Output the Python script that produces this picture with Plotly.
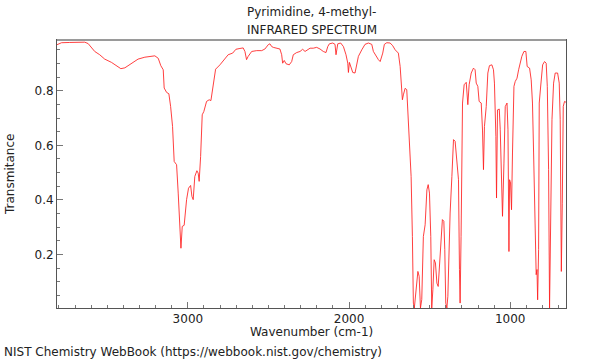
import plotly.graph_objects as go

wavenumber = [3815, 3784, 3733, 3640, 3619, 3598, 3578, 3547, 3516, 3474, 3443, 3416, 3391, 3350, 3309, 3267, 3225, 3205, 3184, 3168, 3153,
              3147, 3132, 3118, 3107, 3095, 3085, 3070, 3060, 3050, 3043, 3035, 3023, 3008, 2996, 2983, 2975, 2967, 2957, 2944, 2936, 2930,
              2921, 2911, 2901, 2884, 2868, 2857, 2843, 2828, 2801, 2770, 2750, 2722, 2702, 2677, 2657, 2646, 2636, 2626, 2604, 2573, 2542,
              2522, 2501, 2491, 2480, 2470, 2449, 2429, 2418, 2412, 2402, 2391, 2371, 2356, 2346, 2325, 2304, 2288, 2273, 2257, 2242, 2222,
              2201, 2180, 2160, 2143, 2132, 2122, 2101, 2087, 2081, 2070, 2052, 2035, 2019, 2008, 2004, 1998, 1988, 1977, 1963, 1953, 1942,
              1921, 1901, 1880, 1859, 1849, 1832, 1818, 1807, 1791, 1781, 1766, 1745, 1729, 1714, 1704, 1694, 1683, 1679, 1673, 1669, 1663,
              1652, 1642, 1635, 1627, 1621, 1615, 1607, 1601, 1595, 1584, 1573, 1565, 1557, 1549, 1539, 1528, 1517, 1509, 1501, 1493, 1487,
              1480, 1472, 1464, 1455, 1447, 1439, 1429, 1421, 1412, 1406, 1400, 1393, 1387, 1379, 1373, 1362, 1352, 1342, 1335, 1325, 1321,
              1315, 1311, 1305, 1296, 1286, 1273, 1263, 1255, 1242, 1228, 1218, 1211, 1201, 1193, 1180, 1172, 1166, 1160, 1149, 1139, 1129,
              1114, 1104, 1098, 1089, 1085, 1079, 1068, 1062, 1052, 1048, 1039, 1031, 1020, 1014, 1008, 1004, 998, 992, 986, 977, 969, 958,
              948, 938, 928, 915, 903, 895, 880, 870, 862, 855, 849, 843, 839, 834, 830, 824, 820, 812, 799, 787, 777, 770, 762, 756, 750,
              741, 731, 721, 706, 696, 690, 683, 677, 671, 663, 652]

transmittance = [0.968, 0.976, 0.977, 0.978, 0.973, 0.956, 0.944, 0.932, 0.916, 0.904, 0.892, 0.881, 0.884, 0.901, 0.916, 0.923, 0.928, 0.928, 0.919, 0.892, 0.877,
                 0.810, 0.794, 0.789, 0.742, 0.669, 0.541, 0.529, 0.425, 0.278, 0.223, 0.303, 0.307, 0.401, 0.443, 0.453, 0.413, 0.401, 0.486, 0.507, 0.498, 0.468,
                 0.559, 0.712, 0.724, 0.761, 0.767, 0.764, 0.816, 0.879, 0.895, 0.919, 0.932, 0.938, 0.952, 0.955, 0.957, 0.944, 0.914, 0.926, 0.944, 0.947, 0.947,
                 0.953, 0.969, 0.972, 0.962, 0.959, 0.956, 0.953, 0.932, 0.901, 0.911, 0.899, 0.895, 0.907, 0.932, 0.940, 0.944, 0.952, 0.944, 0.950, 0.956, 0.956,
                 0.959, 0.953, 0.944, 0.940, 0.962, 0.972, 0.975, 0.970, 0.932, 0.972, 0.975, 0.962, 0.932, 0.901, 0.867, 0.904, 0.889, 0.867, 0.865, 0.889, 0.926,
                 0.950, 0.970, 0.975, 0.970, 0.944, 0.926, 0.914, 0.907, 0.938, 0.970, 0.976, 0.975, 0.965, 0.950, 0.944, 0.938, 0.889, 0.840, 0.809, 0.767, 0.785,
                 0.809, 0.804, 0.730, 0.621, 0.572, 0.486, 0.266, 0.022, 0.004, 0.083, 0.138, 0.120, 0.004, 0.035, 0.266, 0.309, 0.437, 0.456, 0.425, 0.266, 0.004,
                 0.071, 0.181, 0.169, 0.095, 0.083, 0.157, 0.254, 0.328, 0.322, 0.218, 0.022, 0.004, 0.047, 0.218, 0.352, 0.486, 0.621, 0.615, 0.560, 0.511, 0.474,
                 0.145, 0.022, 0.266, 0.755, 0.822, 0.831, 0.749, 0.822, 0.865, 0.883, 0.877, 0.828, 0.816, 0.761, 0.755, 0.656, 0.511, 0.669, 0.742, 0.865, 0.892,
                 0.895, 0.877, 0.828, 0.633, 0.407, 0.730, 0.733, 0.657, 0.413, 0.340, 0.535, 0.742, 0.755, 0.657, 0.211, 0.474, 0.462, 0.364, 0.572, 0.816, 0.834, 0.846,
                 0.877, 0.907, 0.926, 0.944, 0.944, 0.889, 0.883, 0.840, 0.755, 0.572, 0.352, 0.145, 0.126, 0.145, 0.034, 0.218, 0.755, 0.810, 0.895, 0.907, 0.901, 0.816, 0.511, 0.004, 0.266,
                 0.694, 0.828, 0.865, 0.865, 0.828, 0.694, 0.138, 0.388, 0.743, 0.761, 0.757]

x_ticks = [3000, 2000, 1000]
y_ticks = [0.2, 0.4, 0.6, 0.8]

FONT = "DejaVu Sans"
TXT = dict(family=FONT, size=12, color="#222")

fig = go.Figure()
fig.add_trace(go.Scatter(x=wavenumber, y=transmittance, mode="lines",
                         line=dict(color="rgba(255,30,30,0.85)", width=1),
                         hoverinfo="skip", showlegend=False))

axis_common = dict(showgrid=False, zeroline=False, showline=True, mirror=True,
                   linecolor="#555", linewidth=1, ticks="inside", tickcolor="#777",
                   ticklen=6, tickwidth=1, tickfont=TXT)

fig.update_layout(
    width=600, height=360,
    margin=dict(l=57, r=34, t=40, b=52),
    paper_bgcolor="white", plot_bgcolor="white",
    font=TXT,
    xaxis=dict(range=[3812, 654], tickvals=x_ticks, ticktext=[str(v) for v in x_ticks],
               minor=dict(dtick=100, tick0=0, ticks="inside", ticklen=3, tickcolor="#777"),
               **axis_common),
    yaxis=dict(range=[0.004, 0.986], tickvals=y_ticks, ticktext=[f"{v:.1f}" for v in y_ticks],
               minor=dict(dtick=0.05, tick0=0, ticks="inside", ticklen=3, tickcolor="#777"),
               **axis_common),
    shapes=[dict(type="line", xref="paper", yref="paper", x0=0, x1=1, y0=1, y1=1,
                 line=dict(color="#9a9a9a", width=2))],
    annotations=[
        dict(text="Pyrimidine, 4-methyl-", xref="paper", yref="paper", x=0.5, y=(308 - 12) / 268,
             xanchor="center", yanchor="middle", showarrow=False, font=TXT),
        dict(text="INFRARED SPECTRUM", xref="paper", yref="paper", x=0.5, y=(308 - 30) / 268,
             xanchor="center", yanchor="middle", showarrow=False, font=TXT),
        dict(text="Wavenumber (cm-1)", xref="paper", yref="paper", x=0.5, y=(308 - 332) / 268,
             xanchor="center", yanchor="middle", showarrow=False, font=TXT),
        dict(text="Transmitance", xref="paper", yref="paper", x=(10 - 57) / 509, y=(308 - 175) / 268,
             xanchor="center", yanchor="middle", textangle=-90, showarrow=False, font=TXT),
        dict(text="NIST Chemistry WebBook (https://webbook.nist.gov/chemistry)", xref="paper", yref="paper",
             x=(2 - 57) / 509, y=(308 - 352) / 268, xanchor="left", yanchor="middle", showarrow=False,
             font=TXT),
    ],
)

fig.write_html("out.html", config={"displayModeBar": False},
               post_script="document.body.style.margin='0';")
